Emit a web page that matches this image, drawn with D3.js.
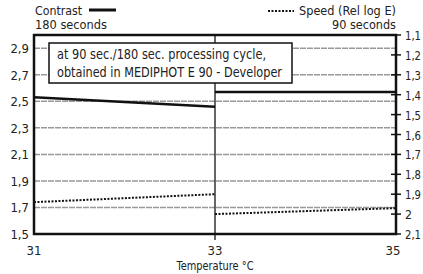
<!DOCTYPE html>
<html>
<head>
<meta charset="utf-8">
<script src="https://cdn.jsdelivr.net/npm/d3@7"></script>
<style>
  body { margin: 0; background: #fff; }
  svg text { font-family: "DejaVu Sans Condensed", "Liberation Sans Narrow", sans-serif; fill: #222; }
</style>
</head>
<body>
<div id="vis"></div>
<script>
var width = 423;
var height = 274;
var margin = { top: 35, right: 27, bottom: 40, left: 34 };

// temperature axis
var tempTicks = [31, 33, 35];
// contrast (left axis), 180 seconds
var contrastTicks = [1.5, 1.7, 1.9, 2.1, 2.3, 2.5, 2.7, 2.9];
var contrastLeftTemps = [31, 33];
var contrastLeftValues = [2.53, 2.46];
var contrastRightTemps = [33, 35];
var contrastRightValues = [2.57, 2.57];
// speed (right axis, reversed), 90 seconds
var speedTicks = [1.1, 1.2, 1.3, 1.4, 1.5, 1.6, 1.7, 1.8, 1.9, 2, 2.1];
var speedLeftTemps = [31, 33];
var speedLeftValues = [1.94, 1.90];
var speedRightTemps = [33, 35];
var speedRightValues = [2.0, 1.97];

var fmt = function (d) { return String(d).replace('.', ','); };

var svg = d3.select('#vis').append('svg')
  .attr('width', width)
  .attr('height', height);

var x = d3.scaleLinear().domain([31, 35]).range([margin.left, width - margin.right]);
var yL = d3.scaleLinear().domain([1.5, 3.0]).range([height - margin.bottom, margin.top]);
var yR = d3.scaleLinear().domain([2.1, 1.1]).range([height - margin.bottom, margin.top]);

// fixed-width text helper, the original type is a condensed face
function label(tx, ty, str, size, len, anchor) {
  return svg.append('text')
    .attr('x', tx).attr('y', ty)
    .attr('font-size', size)
    .attr('text-anchor', anchor || 'start')
    .attr('textLength', len)
    .attr('lengthAdjust', 'spacingAndGlyphs')
    .text(str);
}

// horizontal grid
svg.append('g').selectAll('line')
  .data(contrastTicks.slice(1))
  .enter().append('line')
  .attr('x1', x(31)).attr('x2', x(35))
  .attr('y1', function (d) { return yL(d); })
  .attr('y2', function (d) { return yL(d); })
  .attr('stroke', '#999')
  .attr('stroke-width', 1.5)
  .attr('stroke-dasharray', '6,1');

// vertical line at 33
svg.append('line')
  .attr('x1', x(33)).attr('x2', x(33))
  .attr('y1', yL(3.0)).attr('y2', yL(1.5) + 6)
  .attr('stroke', '#333')
  .attr('stroke-width', 1.5);

// right axis ticks
svg.append('g').selectAll('line')
  .data(speedTicks)
  .enter().append('line')
  .attr('x1', x(35) - 5).attr('x2', x(35) + 5)
  .attr('y1', function (d) { return yR(d); })
  .attr('y2', function (d) { return yR(d); })
  .attr('stroke', '#111')
  .attr('stroke-width', 1.5);

// lines
var lineL = d3.line()
  .x(function (d) { return x(d[0]); })
  .y(function (d) { return yL(d[1]); });
var lineR = d3.line()
  .x(function (d) { return x(d[0]); })
  .y(function (d) { return yR(d[1]); });

[[contrastLeftTemps, contrastLeftValues], [contrastRightTemps, contrastRightValues]].forEach(function (s) {
  svg.append('path')
    .datum(d3.zip(s[0], s[1]))
    .attr('d', lineL)
    .attr('fill', 'none')
    .attr('stroke', '#111')
    .attr('stroke-width', 2.5);
});

[[speedLeftTemps, speedLeftValues], [speedRightTemps, speedRightValues]].forEach(function (s) {
  svg.append('path')
    .datum(d3.zip(s[0], s[1]))
    .attr('d', lineR)
    .attr('fill', 'none')
    .attr('stroke', '#111')
    .attr('stroke-width', 2)
    .attr('stroke-dasharray', '2,1.5');
});

// frame
svg.append('rect')
  .attr('x', x(31)).attr('y', yL(3.0))
  .attr('width', x(35) - x(31))
  .attr('height', yL(1.5) - yL(3.0))
  .attr('fill', 'none')
  .attr('stroke', '#111')
  .attr('stroke-width', 2.5);

// note box
svg.append('rect')
  .attr('x', 49).attr('y', 43)
  .attr('width', 243).attr('height', 40)
  .attr('fill', '#fff')
  .attr('stroke', '#111')
  .attr('stroke-width', 1.5);
label(57, 59, 'at 90 sec./180 sec. processing cycle,', 13.5, 209);
label(57, 77, 'obtained in MEDIPHOT E 90 - Developer', 13.5, 225);

// left labels
svg.append('g').selectAll('text')
  .data(contrastTicks)
  .enter().append('text')
  .attr('x', 29)
  .attr('y', function (d) { return yL(d) + 5; })
  .attr('text-anchor', 'end')
  .attr('font-size', 13)
  .text(fmt);

// right labels, squeezed so they stay inside the window
svg.append('g').selectAll('text')
  .data(speedTicks)
  .enter().append('text')
  .attr('x', 405)
  .attr('y', function (d) { return yR(d) + 5; })
  .attr('font-size', 12.5)
  .attr('textLength', function (d) { return String(d).length > 1 ? 16 : 7; })
  .attr('lengthAdjust', 'spacingAndGlyphs')
  .text(fmt);

// bottom labels
svg.append('g').selectAll('text')
  .data(tempTicks)
  .enter().append('text')
  .attr('x', function (d, i) { return x(d) - (i === 2 ? 3 : 0); })
  .attr('y', 255)
  .attr('text-anchor', 'middle')
  .attr('font-size', 13)
  .text(function (d) { return d; });

label(x(33), 270, 'Temperature °C', 11.5, 77, 'middle');

// header legends
label(35, 15, 'Contrast', 11.5, 47);
svg.append('line').attr('x1', 89).attr('x2', 116).attr('y1', 10).attr('y2', 10)
  .attr('stroke', '#111').attr('stroke-width', 3);
label(35, 29, '180 seconds', 11.5, 72);

label(396, 15, 'Speed (Rel log E)', 11.5, 97, 'end');
svg.append('line').attr('x1', 268).attr('x2', 294).attr('y1', 11).attr('y2', 11)
  .attr('stroke', '#111').attr('stroke-width', 2).attr('stroke-dasharray', '2,1.5');
label(396, 29, '90 seconds', 11.5, 64, 'end');
</script>
</body>
</html>
